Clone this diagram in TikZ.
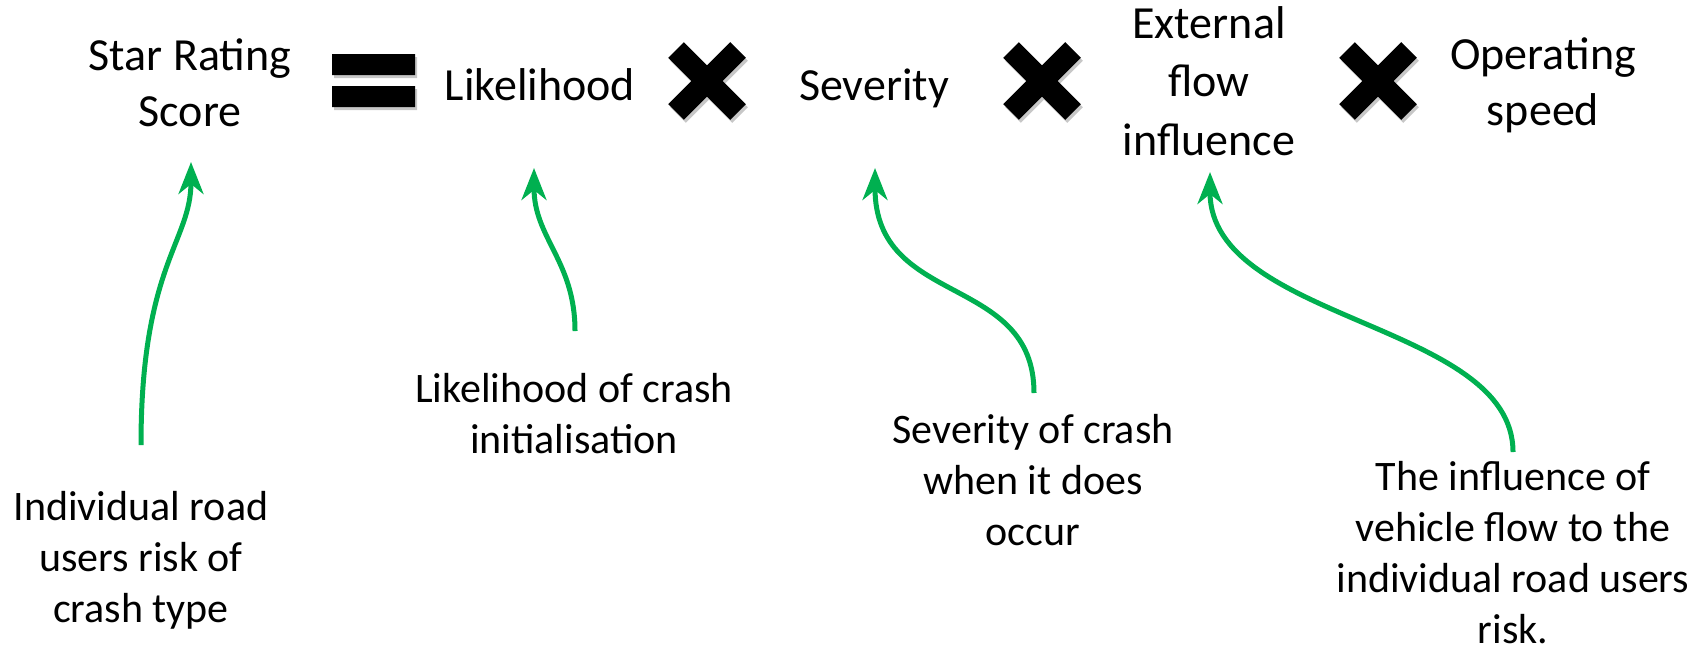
\documentclass[tikz,border=0pt]{standalone}
\usepackage{fontspec}
\setmainfont{Carlito}
\usetikzlibrary{arrows.meta}
\definecolor{flowgreen}{RGB}{0,176,80}
\tikzset{
  term/.style={font=\fontsize{23}{28}\selectfont, align=center, anchor=base, inner sep=0pt, outer sep=0pt},
  note/.style={font=\fontsize{21}{25.5}\selectfont, align=center, anchor=base, inner sep=0pt, outer sep=0pt},
  flow/.style={draw=flowgreen, line width=2.5pt, -{Stealth[length=16pt, width=12.5pt, inset=5pt]}},
  opshadow/.style={black, opacity=0.22},
}
\begin{document}
\begin{tikzpicture}[x=0.5pt,y=0.5pt,yscale=-1,xscale=1]
\useasboundingbox (0,0) rectangle (1701,650);

% Terms of the score (placed at the baseline of their last line)
\node[term] (star) at (190,126) {Star Rating\\Score};
\node[term] (like) at (540,100) {Likelihood};
\node[term] (sev) at (874,100) {Severity};
\node[term, font=\fontsize{23}{29.25}\selectfont] (ext) at (1209,155) {External\\flow\\influence};
\node[term] (speed) at (1543,125) {Operating\\speed};

% Equals sign
\fill[opshadow] (334,57) rectangle (417,78) (334,89) rectangle (417,110);
\fill (332,54) rectangle (415,75) (332,86) rectangle (415,107);

% Times signs
\draw[opshadow, line width=11pt] (678,53) -- (740,115) (678,115) -- (740,53);
\draw[line width=11pt] (676,50) -- (738,112) (676,112) -- (738,50);
\draw[opshadow, line width=11pt] (1013,53) -- (1075,115) (1013,115) -- (1075,53);
\draw[line width=11pt] (1011,50) -- (1073,112) (1011,112) -- (1073,50);
\draw[opshadow, line width=11pt] (1349,53) -- (1411,115) (1349,115) -- (1411,53);
\draw[line width=11pt] (1347,50) -- (1409,112) (1347,112) -- (1409,50);

% Explanations
\node[note] (risk) at (141,622) {Individual road\\users risk of\\crash type};
\node[note] (init) at (574,453) {Likelihood of crash\\initialisation};
\node[note] (occur) at (1033,545) {Severity of crash\\when it does\\occur};
\node[note] (vflow) at (1513,643) {The influence of\\vehicle flow to the\\individual road users\\risk.};

% Arrows
\draw[flow] ([yshift=-88.5pt]risk.base) .. controls +(0,-180) and +(0,80) .. ([xshift=0.5pt,yshift=18pt]star.base);
\draw[flow] ([xshift=0.5pt,yshift=-61pt]init.base) .. controls +(0,-70) and +(0,70) .. ([xshift=-3pt,yshift=34pt]like.base);
\draw[flow] ([xshift=0.5pt,yshift=-76pt]occur.base) .. controls +(0,-120) and +(0,140) .. ([xshift=0.5pt,yshift=34pt]sev.base);
\draw[flow] ([yshift=-95.5pt]vflow.base) .. controls +(0,-130) and +(0,150) .. ([xshift=0.5pt,yshift=8.5pt]ext.base);
\end{tikzpicture}
\end{document}
